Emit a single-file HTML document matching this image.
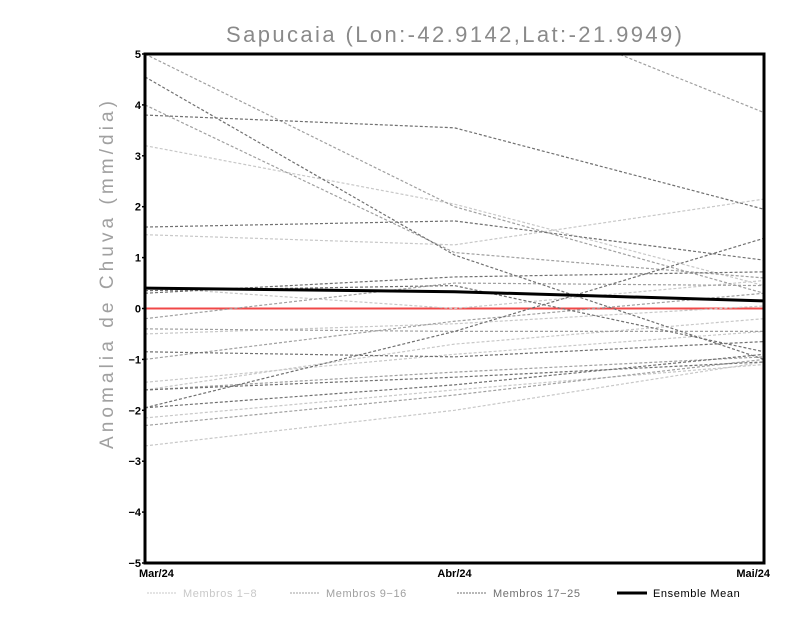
<!DOCTYPE html>
<html><head><meta charset="utf-8"><style>
body{margin:0;background:#fff;width:800px;height:618px;overflow:hidden;font-family:"Liberation Sans",sans-serif}
</style></head><body>
<svg id="chart" width="800" height="618" xmlns="http://www.w3.org/2000/svg">
<text x="454" y="42" text-anchor="middle" font-size="22" fill="#8a8a8a" font-family="Liberation Sans, sans-serif" textLength="456" lengthAdjust="spacing">Sapucaia (Lon:-42.9142,Lat:-21.9949)</text>
<text transform="translate(113,275) rotate(-90)" text-anchor="middle" font-size="19" fill="#a0a0a0" textLength="348" lengthAdjust="spacing">Anomalia de Chuva (mm/dia)</text>
<defs><clipPath id="pc"><rect x="145" y="54" width="619" height="509"/></clipPath></defs>
<g id="series" clip-path="url(#pc)"></g>
<g id="axes"></g>
<g id="legend"></g>
</svg>
<script>
const categories = ["Mar/24","Abr/24","Mai/24"];
const yTicks = [5,4,3,2,1,0,-1,-2,-3,-4,-5];
const lightMembers = [
 [3.2,2.05,0.45],[1.45,1.25,2.15],[0.42,0.0,0.55],[-0.5,-0.3,0.05],
 [-1.45,-0.9,-0.45],[-1.6,-0.7,-0.2],[-2.15,-1.6,-1.1],[-2.7,-2.0,-1.05]
];
const mediumMembers = [
 [5.0,2.0,0.3],[4.0,1.1,0.6],[-0.2,0.5,0.45],[-0.4,-0.45,-0.45],
 [-1.0,-0.25,0.3],[-1.6,-1.25,-0.95],[-2.3,-1.7,-1.0],[8.0,6.3,3.85]
];
const darkMembers = [
 [4.55,1.05,-1.0],[3.8,3.55,1.95],[1.6,1.72,0.95],[0.3,0.62,0.72],
 [-0.85,-0.95,-0.65],[-1.95,-0.45,1.38],[-1.6,-1.35,-1.05],[-1.95,-1.5,-0.9],[0.35,0.45,-0.85]
];
const ensembleMean = [0.4,0.33,0.15];

const X0=145,X1=764,Y0=563,Y1=54;
function xs(i){return X0+(X1-X0)*i/(categories.length-1);}
function ys(v){return Y0-(v+5)/10*(Y0-Y1);}
const NS="http://www.w3.org/2000/svg";
function mk(tag,attrs,parent){const e=document.createElementNS(NS,tag);for(const k in attrs)e.setAttribute(k,attrs[k]);parent.appendChild(e);return e;}
const S=document.getElementById('series'),A=document.getElementById('axes'),L=document.getElementById('legend');
function pts(arr){return arr.map((v,i)=>xs(i)+","+ys(v)).join(" ");}
const zl=mk('line',{x1:X0,x2:X1,y1:ys(0),y2:ys(0),stroke:'#f04848','stroke-width':2},S);


function drawGroup(g,col,name){g.forEach((d,k)=>{const p=mk('polyline',{points:pts(d),fill:'none',stroke:col,'stroke-width':1.2,'stroke-dasharray':'3,2'},S);

});}
drawGroup(lightMembers,'#c8c8c8','member-light');
drawGroup(mediumMembers,'#a0a0a0','member-medium');
drawGroup(darkMembers,'#707070','member-dark');
const em=mk('polyline',{points:pts(ensembleMean),fill:'none',stroke:'#000','stroke-width':3},S);


const fr=mk('rect',{x:X0,y:Y1,width:X1-X0,height:Y0-Y1,fill:'none',stroke:'#000','stroke-width':3},A);


yTicks.forEach(v=>{const t=mk('text',{x:X0-4,y:ys(v)+4,'text-anchor':'end','font-size':11,'font-weight':'bold',fill:'#000'},A);t.textContent=v<0?'\u2212'+(-v):v;


const tk=mk('line',{x1:X0-3,x2:X0,y1:ys(v),y2:ys(v),stroke:'#000','stroke-width':1.5},A);

});
categories.forEach((c,i)=>{const anchor=i==0?'start':(i==categories.length-1?'end':'middle');
const t=mk('text',{x:xs(i)+(i==0?-6:i==2?6:0),y:Y0+14,'text-anchor':anchor,'font-size':11,'font-weight':'bold',fill:'#000'},A);t.textContent=c;

});
const leg=[["Membros 1-8",'#c8c8c8',147,1],["Membros 9-16",'#a0a0a0',290,1],["Membros 17-25",'#707070',457,1],["Ensemble Mean",'#000',617,3]];
leg.forEach(l=>{const ln=mk('line',{x1:l[2],x2:l[2]+30,y1:593,y2:593,stroke:l[1],'stroke-width':l[3],'stroke-dasharray':l[3]>1?'none':'2,1'},L);


const t=mk('text',{x:l[2]+36,y:597,'font-size':11,fill:l[3]>1?'#000':l[1],'letter-spacing':0.6},L);t.textContent=l[0].replace('-','\u2212');

});
</script>
</body></html>
